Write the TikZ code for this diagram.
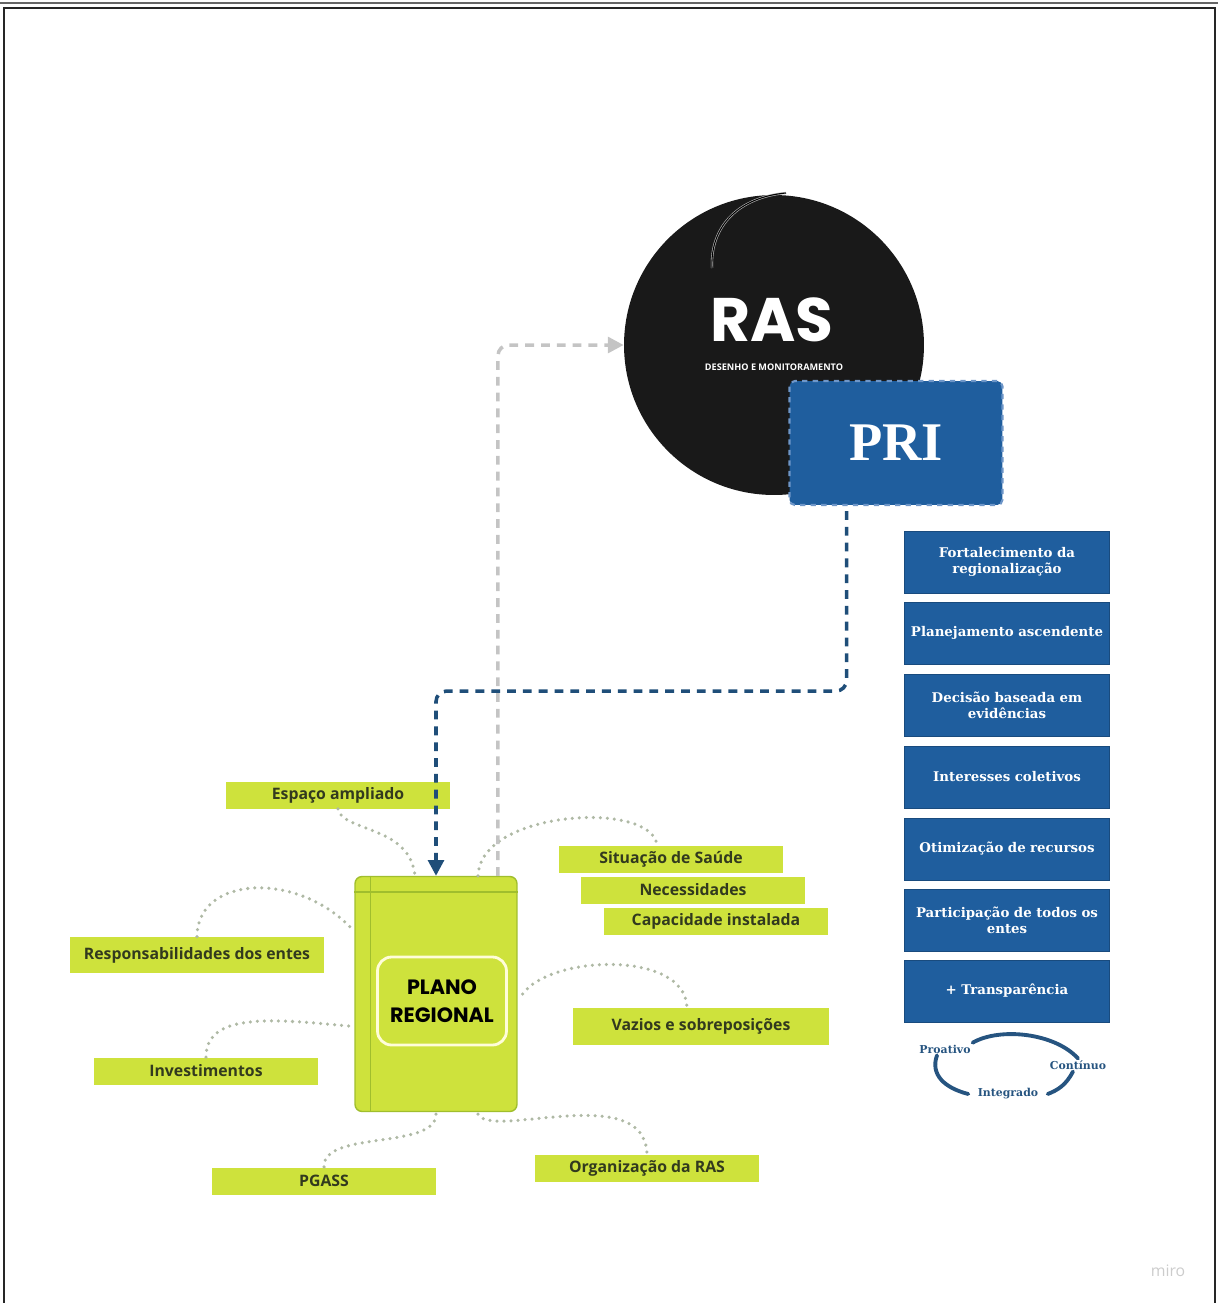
\documentclass[tikz,border=0pt]{standalone}
\usepackage{fontspec}
\usepackage{tikz}
\usepackage{xcolor}
\usetikzlibrary{arrows.meta, calc}
\setmainfont{Open Sans}
\newfontfamily\labelfont{Open Sans}
\newfontfamily\titlefont{Poppins}
\newfontfamily\slabfont{DejaVu Serif}
\newfontfamily\prifont{Liberation Serif}

\definecolor{limegreen}{RGB}{206,226,60}
\definecolor{limeedge}{RGB}{160,190,45}
\definecolor{labeltext}{RGB}{50,58,30}
\definecolor{riblue}{RGB}{31,94,158}
\definecolor{riedge}{RGB}{110,150,200}
\definecolor{darkdash}{RGB}{31,78,121}
\definecolor{lightdash}{RGB}{196,196,196}
\definecolor{dotgray}{RGB}{175,185,165}
\definecolor{cycleblue}{RGB}{38,84,128}

\begin{document}
\begin{tikzpicture}[x=0.02cm, y=-0.02cm,
    greenlabel/.style={fill=limegreen, text=labeltext, font=\labelfont\bfseries\fontsize{9}{10}\selectfont, inner sep=0pt, minimum width=4.5cm, minimum height=0.54cm},
    bluebox/.style={fill=riblue, draw=riblue!80!black, text=white, font=\slabfont\bfseries\fontsize{7.6}{9}\selectfont, align=center, inner sep=0pt, minimum width=4.1cm, minimum height=1.24cm, text width=4cm},
    dotlink/.style={dotgray, line width=2pt, line cap=round, dash pattern=on 0pt off 4pt},
    cyclearc/.style={cycleblue, line width=2.2pt, line cap=round},
    cyclelabel/.style={text=cycleblue, font=\slabfont\bfseries\fontsize{6.2}{7}\selectfont, inner sep=1pt}]
        \useasboundingbox (0,0) rectangle (1218,1303);
        % frame
        \draw[black!60, line width=0.8pt] (0,3) -- (1218,3);
        \draw[black!85, line width=1.3pt] (4,1303) -- (4,8) -- (1215,8) -- (1215,1303);

        % RAS circle
        \node[circle, fill=black!90, minimum size=6cm, inner sep=0pt] (ras) at (774,345) {};
        \draw[gray!55, line width=1.3pt] (712,268) .. controls (710,225) and (740,197) .. (786,193);
        \draw[black, line width=0.6pt] (712,268) .. controls (710,225) and (740,197) .. (786,193);
        \node[text=white, font=\titlefont\bfseries\fontsize{35}{35}\selectfont, inner sep=0pt, text depth=0pt] (rastitle) at (772,320) {RAS};
        \node[text=white, font=\labelfont\bfseries\fontsize{5.2}{6}\selectfont, inner sep=0pt] (rassub) at (774,367) {DESENHO E MONITORAMENTO};

        % PRI box
        \node[fill=riblue, draw=riedge, dashed, line width=1.2pt, rounded corners=3pt, minimum width=4.26cm, minimum height=2.48cm, inner sep=0pt, text=white, font=\prifont\bfseries\fontsize{31}{31}\selectfont] (pri) at (896,443) {PRI};

        % right column
        \node[bluebox] (forta) at (1007,562) {Fortalecimento da\\regionalização};
        \node[bluebox] (plane) at (1007,633) {Planejamento ascendente};
        \node[bluebox] (decis) at (1007,705) {Decisão baseada em\\evidências};
        \node[bluebox] (inter) at (1007,777) {Interesses coletivos};
        \node[bluebox] (otimi) at (1007,849) {Otimização de recursos};
        \node[bluebox] (parti) at (1007,920) {Participação de todos os\\entes};
        \node[bluebox] (trans) at (1007,991) {+ Transparência};

        % cycle
        \node[cyclelabel] (proativo) at (945,1049) {Proativo};
        \node[cyclelabel] (continuo) at (1078,1065) {Contínuo};
        \node[cyclelabel] (integrado) at (1008,1094) {Integrado};
        \draw[cyclearc] (proativo.north east) .. controls (1000,1027) and (1055,1033) .. (continuo.north);
        \draw[cyclearc] ([xshift=-0.16cm]proativo.south) .. controls (930,1075) and (945,1088) .. ([xshift=-0.15cm]integrado.west);
        \draw[cyclearc] ([xshift=0.15cm]integrado.east) .. controls (1058,1090) and (1066,1085) .. ([xshift=-0.1cm]continuo.south);

        % plano regional
        \node[fill=limegreen, draw=limeedge, line width=0.8pt, rounded corners=4pt, minimum width=3.24cm, minimum height=4.7cm, inner sep=0pt] (plano) at (436,994) {};
        \draw[limeedge, line width=0.8pt] ([xshift=0.32cm]plano.north west) -- ([xshift=0.32cm]plano.south west);
        \draw[limeedge, line width=0.8pt] ([yshift=-0.32cm]plano.north west) -- ([yshift=-0.32cm]plano.north east);
        \node[draw=white!85!yellow, line width=1.6pt, rounded corners=8pt, minimum width=2.58cm, minimum height=1.76cm, inner sep=0pt, align=center, font=\titlefont\bfseries\fontsize{11.8}{16}\selectfont] (planotitle) at (442,1001) {PLANO\\REGIONAL};

        % labels
        \node[greenlabel] (espaco) at (338,795) {Espaço ampliado};
        \node[greenlabel] (situacao) at (671,859) {Situação de Saúde};
        \node[greenlabel] (necess) at (693,890) {Necessidades};
        \node[greenlabel] (capac) at (716,921) {Capacidade instalada};
        \node[greenlabel, minimum width=5.1cm, minimum height=0.72cm] (resp) at (197,955) {Responsabilidades dos entes};
        \node[greenlabel, minimum width=5.12cm, minimum height=0.74cm] (vazios) at (701,1026) {Vazios e sobreposições};
        \node[greenlabel] (invest) at (206,1071) {Investimentos};
        \node[greenlabel] (pgass) at (324,1181) {PGASS};
        \node[greenlabel] (org) at (647,1168) {Organização da RAS};

        % dotted links
        \draw[dotlink] (espaco.south) .. controls (342,832) and (410,825) .. ([xshift=-0.42cm]plano.north);
        \draw[dotlink] ([xshift=0.84cm]plano.north) .. controls (480,810) and (652,800) .. ([xshift=-0.28cm]situacao.north);
        \draw[dotlink] (resp.north) .. controls (197,875) and (300,870) .. ([yshift=1.25cm]plano.west);
        \draw[dotlink] ([xshift=0.1cm]plano.east) .. controls (550,955) and (685,950) .. ([xshift=-0.28cm]vazios.north);
        \draw[dotlink] (invest.north) .. controls (206,1010) and (280,1020) .. ([yshift=-0.65cm]plano.west);
        \draw[dotlink] ([yshift=-0.04cm]plano.south) .. controls (436,1150) and (322,1130) .. (pgass.north);
        \draw[dotlink] ([xshift=0.84cm, yshift=-0.04cm]plano.south) .. controls (490,1140) and (645,1080) .. (org.north);

        % dashed connectors
        \draw[lightdash, line width=2pt, dash pattern=on 5pt off 4pt, rounded corners=6pt, -{Triangle[length=9pt, width=9pt]}] ([xshift=1.24cm]plano.north) |- (ras.west);
        \draw[darkdash, line width=2pt, dash pattern=on 5pt off 4pt, rounded corners=6pt, -{Triangle[length=9pt, width=9pt]}] ([xshift=-0.99cm, yshift=-0.1cm]pri.south) -- ++(0,180) -| (plano.north);

        \node[text=gray!40, font=\labelfont\fontsize{9}{10}\selectfont] (miro) at (1168,1271) {miro};
    \end{tikzpicture}
\end{document}
